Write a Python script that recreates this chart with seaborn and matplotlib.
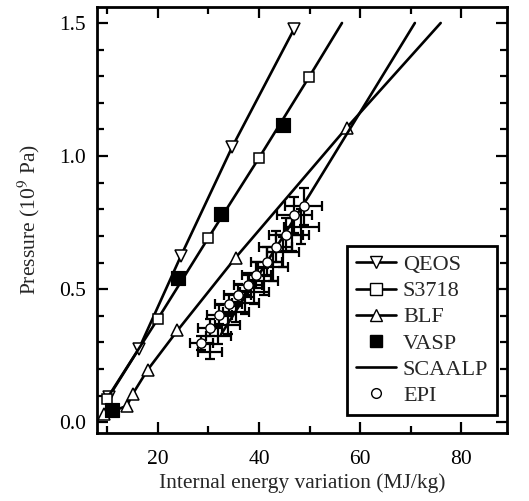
import numpy as np
import matplotlib
matplotlib.use("Agg")
import matplotlib.pyplot as plt
from matplotlib.lines import Line2D
from matplotlib.ticker import MultipleLocator
import seaborn as sns

# ---- data ----
qeos_x = [10.3, 16.3, 24.6, 34.7, 46.9]
qeos_y = [0.095, 0.277, 0.626, 1.034, 1.476]

s3718_x = [9.9, 20.0, 30.0, 40.0, 49.9, 56.4]
s3718_y = [0.087, 0.388, 0.693, 0.993, 1.297, 1.50]

blf_x = [9.4, 13.9, 15.1, 18.0, 23.9, 35.4, 57.3, 75.9]
blf_y = [0.030, 0.062, 0.108, 0.197, 0.345, 0.619, 1.106, 1.50]

vasp_x = [10.9, 24.1, 32.5, 44.75]
vasp_y = [0.048, 0.543, 0.783, 1.116]

scaalp_x = [32.5, 50.0, 70.8]
scaalp_y = [0.33, 0.855, 1.50]

epi_x = [28.6, 30.3, 32.2, 34.0, 35.8, 37.8, 39.5, 41.5, 43.3, 45.3, 47.0, 48.8]
epi_y = [0.298, 0.355, 0.404, 0.445, 0.479, 0.516, 0.554, 0.603, 0.659, 0.704, 0.779, 0.812]
epi_xerr = [2.3, 2.4, 2.5, 2.6, 2.7, 2.8, 2.9, 3.0, 3.2, 3.3, 3.5, 3.6]
epi_yerr = [0.028, 0.032, 0.035, 0.038, 0.042, 0.046, 0.050, 0.054, 0.058, 0.062, 0.066, 0.070]

# second group of error crosses (no symbol)
epi2_x = [30.3, 32.0, 33.8, 35.5, 37.3, 39.1, 40.9, 42.8, 44.7, 46.6, 48.4]
epi2_y = [0.265, 0.325, 0.365, 0.415, 0.450, 0.490, 0.530, 0.585, 0.640, 0.705, 0.735]
epi2_xerr = [2.3, 2.4, 2.5, 2.6, 2.7, 2.8, 2.9, 3.0, 3.2, 3.3, 3.5]
epi2_yerr = [0.028, 0.032, 0.035, 0.038, 0.042, 0.046, 0.050, 0.054, 0.058, 0.062, 0.066]

sns.set_style("ticks")
plt.rcParams["font.family"] = ["Liberation Serif", "DejaVu Serif"]
plt.rcParams["mathtext.fontset"] = "stix"

fig = plt.figure(figsize=(5.29, 5.01), dpi=100)
ax = fig.add_axes([97 / 529, 1 - 433 / 501, 410 / 529, 426 / 501])

lw = 1.9
# error bars
ax.errorbar(epi2_x, epi2_y, xerr=epi2_xerr, yerr=epi2_yerr, fmt="none",
            ecolor="black", elinewidth=1.6, capsize=3.5, capthick=1.6, zorder=2)
ax.errorbar(epi_x, epi_y, xerr=epi_xerr, yerr=epi_yerr, fmt="none",
            ecolor="black", elinewidth=1.6, capsize=3.5, capthick=1.6, zorder=2)

# model curves
sns.lineplot(x=qeos_x, y=qeos_y, ax=ax, color="black", lw=lw, sort=False,
             marker="v", markersize=8, markerfacecolor="white",
             markeredgecolor="black", markeredgewidth=1.1, zorder=3)
sns.lineplot(x=s3718_x, y=s3718_y, ax=ax, color="black", lw=lw, sort=False,
             marker="s", markersize=7.5, markerfacecolor="white",
             markeredgecolor="black", markeredgewidth=1.1,
             markevery=list(range(len(s3718_x) - 1)), zorder=3)
sns.lineplot(x=blf_x, y=blf_y, ax=ax, color="black", lw=lw, sort=False,
             marker="^", markersize=8, markerfacecolor="white",
             markeredgecolor="black", markeredgewidth=1.1,
             markevery=list(range(len(blf_x) - 1)), zorder=3)
sns.lineplot(x=scaalp_x, y=scaalp_y, ax=ax, color="black", lw=lw, sort=False, zorder=3)
sns.scatterplot(x=vasp_x, y=vasp_y, ax=ax, color="black", marker="s", s=110,
                edgecolor="black", zorder=4)
sns.scatterplot(x=epi_x, y=epi_y, ax=ax, color="white", marker="o", s=45,
                edgecolor="black", linewidth=1.0, zorder=5)

ax.set_xlim(8.0, 89.0)
ax.set_ylim(-0.04, 1.56)
ax.xaxis.set_major_locator(MultipleLocator(20))
ax.xaxis.set_minor_locator(MultipleLocator(10))
ax.yaxis.set_major_locator(MultipleLocator(0.5))
ax.yaxis.set_minor_locator(MultipleLocator(0.1))
ax.yaxis.set_major_formatter(matplotlib.ticker.FormatStrFormatter("%.1f"))
ax.tick_params(which="both", direction="in", top=True, right=True, width=1.6,
               labelsize=15.5, colors="black")
ax.tick_params(which="major", length=8, pad=8)
ax.tick_params(axis="x", which="major", pad=12)
ax.tick_params(which="minor", length=5)
for sp in ax.spines.values():
    sp.set_linewidth(2.0)
    sp.set_color("black")

ax.set_xlabel("Internal energy variation (MJ/kg)", fontsize=15.5, labelpad=3)
ax.set_ylabel("Pressure (10$^{9}$ Pa)", fontsize=15.5, labelpad=12)

handles = [
    Line2D([], [], color="black", lw=lw, marker="v", markersize=9,
           markerfacecolor="white", markeredgecolor="black"),
    Line2D([], [], color="black", lw=lw, marker="s", markersize=9,
           markerfacecolor="white", markeredgecolor="black"),
    Line2D([], [], color="black", lw=lw, marker="^", markersize=9,
           markerfacecolor="white", markeredgecolor="black"),
    Line2D([], [], color="black", lw=0, marker="s", markersize=8.5,
           markerfacecolor="black", markeredgecolor="black"),
    Line2D([], [], color="black", lw=lw),
    Line2D([], [], color="black", lw=0, marker="o", markersize=7,
           markerfacecolor="white", markeredgecolor="black"),
]
labels = ["QEOS", "S3718", "BLF", "VASP", "SCAALP", "EPI"]
leg = ax.legend(handles, labels, loc="lower right", bbox_to_anchor=(0.976, 0.043),
                fontsize=16, frameon=True, fancybox=False, framealpha=1,
                edgecolor="black", handlelength=1.8, handletextpad=0.3,
                labelspacing=0.25, borderpad=0.4, borderaxespad=0)
leg.get_frame().set_linewidth(2.0)

fig.savefig("out.png", dpi=100)
